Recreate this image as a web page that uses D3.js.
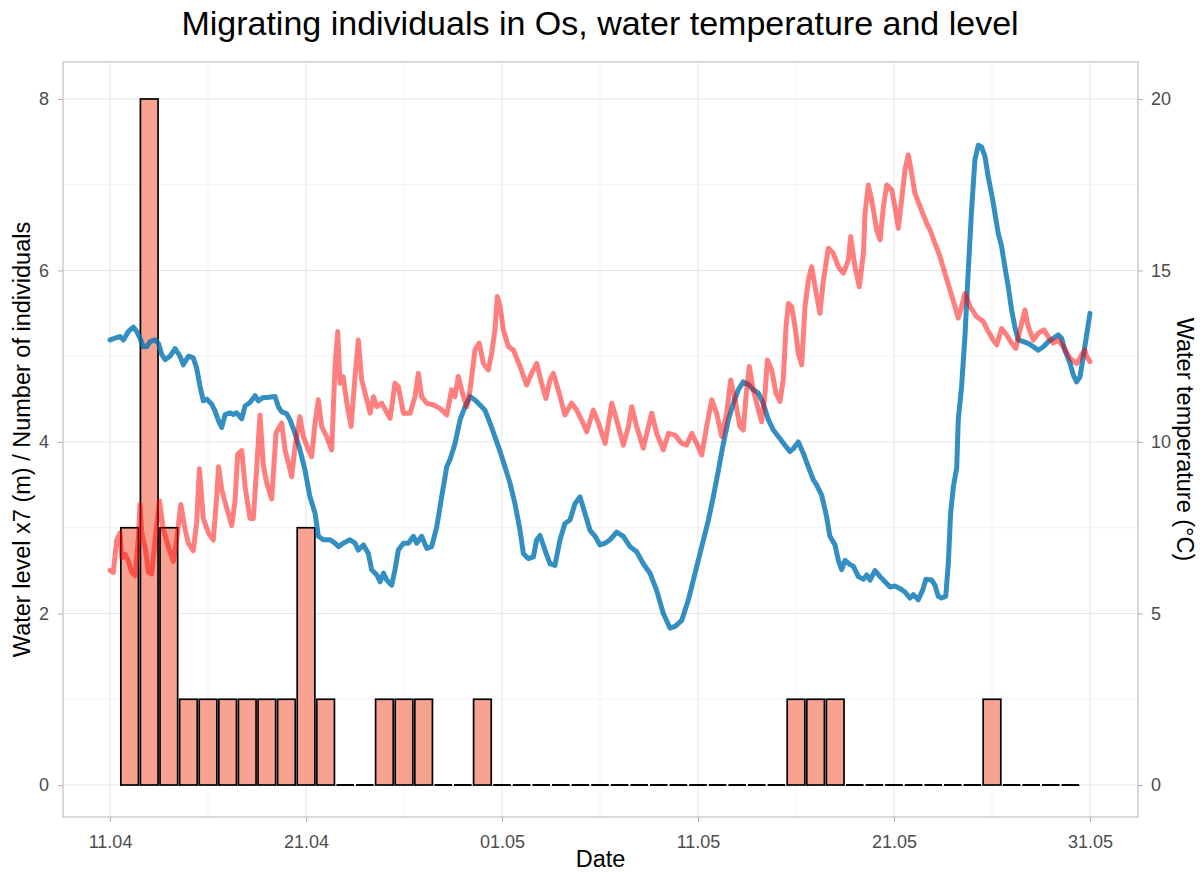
<!DOCTYPE html>
<html>
<head>
<meta charset="utf-8">
<script src="https://cdn.jsdelivr.net/npm/d3@7"></script>
<style>
  body { margin: 0; background: #fff; }
  svg { display: block; font-family: "Liberation Sans", Arial, sans-serif; }
</style>
</head>
<body>
<svg id="chart" width="1203" height="872"></svg>
<script>
// ---------------- DATA ----------------
const titleText = "Migrating individuals in Os, water temperature and level";
const xTitle = "Date";
const yLeftTitle = "Water level x7 (m) / Number of individuals";
const yRightTitle = "Water temperature (°C)";

const xTickLabels = ["11.04", "21.04", "01.05", "11.05", "21.05", "31.05"];
const yLeftTicks = [0, 2, 4, 6, 8];
const yRightTicks = [0, 5, 10, 15, 20];

// daily counts of migrating individuals
const barDates = ["12.04","13.04","14.04","15.04","16.04","17.04","18.04","19.04","20.04","21.04",
  "22.04","23.04","24.04","25.04","26.04","27.04","28.04","29.04","30.04","01.05",
  "02.05","03.05","04.05","05.05","06.05","07.05","08.05","09.05","10.05","11.05",
  "12.05","13.05","14.05","15.05","16.05","17.05","18.05","19.05","20.05","21.05",
  "22.05","23.05","24.05","25.05","26.05","27.05","28.05","29.05","30.05"];
const barCounts = [3,8,3,1,1,1,1,1,1,3,
  1,0,0,1,1,1,0,0,1,0,
  0,0,0,0,0,0,0,0,0,0,
  0,0,0,0,1,1,1,0,0,0,
  0,0,0,0,1,0,0,0,0];

// water level x7 : [days since 11.04, value]
const waterLevel = [
 [0.00,5.19],[0.26,5.21],[0.51,5.23],[0.68,5.19],[0.94,5.29],[1.19,5.34],[1.36,5.29],[1.53,5.21],[1.70,5.11],[1.87,5.11],
 [2.04,5.17],[2.30,5.19],[2.47,5.15],[2.64,5.02],[2.81,4.96],[3.06,5.00],[3.32,5.09],[3.57,5.00],[3.74,4.90],[4.00,5.00],
 [4.25,4.98],[4.42,4.86],[4.59,4.65],[4.76,4.48],[4.93,4.50],[5.19,4.44],[5.36,4.36],[5.53,4.25],[5.70,4.17],[5.87,4.32],
 [6.12,4.34],[6.29,4.32],[6.46,4.34],[6.72,4.27],[6.89,4.42],[7.14,4.46],[7.40,4.54],[7.57,4.48],[7.82,4.52],[7.99,4.52],
 [8.42,4.53],[8.59,4.41],[8.76,4.35],[9.01,4.33],[9.18,4.26],[9.44,4.10],[9.69,3.91],[9.95,3.67],[10.20,3.36],[10.46,3.17],
 [10.63,2.90],[10.88,2.86],[11.22,2.86],[11.48,2.82],[11.65,2.78],[11.90,2.82],[12.24,2.86],[12.50,2.82],[12.67,2.74],[12.93,2.80],
 [13.18,2.70],[13.35,2.51],[13.61,2.45],[13.78,2.37],[13.95,2.47],[14.12,2.39],[14.37,2.33],[14.54,2.51],[14.71,2.74],[14.97,2.82],
 [15.22,2.82],[15.48,2.90],[15.65,2.82],[15.90,2.90],[16.16,2.76],[16.41,2.78],[16.67,3.01],[16.92,3.36],[17.18,3.71],[17.35,3.80],
 [17.60,3.98],[17.86,4.26],[18.11,4.41],[18.37,4.53],[18.62,4.49],[18.88,4.43],[19.13,4.37],[19.39,4.22],[19.64,4.06],[19.90,3.89],
 [20.15,3.71],[20.41,3.52],[20.66,3.28],[20.92,2.97],[21.09,2.70],[21.34,2.64],[21.60,2.66],[21.77,2.86],[21.94,2.91],[22.19,2.74],
 [22.45,2.58],[22.70,2.56],[22.96,2.86],[23.21,3.05],[23.47,3.09],[23.72,3.28],[23.98,3.36],[24.23,3.17],[24.49,2.97],[24.75,2.90],
 [25.00,2.80],[25.26,2.82],[25.51,2.86],[25.85,2.95],[26.19,2.90],[26.53,2.78],[26.87,2.72],[27.21,2.58],[27.55,2.47],[27.89,2.27],
 [28.23,2.00],[28.57,1.83],[28.83,1.85],[29.17,1.92],[29.51,2.16],[29.85,2.47],[30.19,2.78],[30.53,3.09],[30.78,3.36],[31.04,3.67],
 [31.29,3.98],[31.55,4.26],[31.80,4.45],[32.06,4.61],[32.31,4.70],[32.57,4.67],[32.82,4.61],[33.08,4.57],[33.33,4.45],[33.59,4.26],
 [33.84,4.14],[34.18,4.04],[34.44,3.96],[34.69,3.89],[34.86,3.92],[35.12,4.00],[35.37,3.87],[35.63,3.71],[35.88,3.56],[36.05,3.50],
 [36.31,3.38],[36.56,3.13],[36.73,2.90],[36.99,2.80],[37.16,2.62],[37.33,2.51],[37.50,2.62],[37.76,2.57],[37.93,2.55],[38.18,2.43],
 [38.44,2.40],[38.61,2.45],[38.78,2.39],[39.03,2.50],[39.29,2.43],[39.54,2.37],[39.80,2.31],[40.05,2.32],[40.31,2.29],[40.56,2.25],
 [40.82,2.18],[40.99,2.22],[41.24,2.16],[41.46,2.27],[41.63,2.40],[41.92,2.39],[42.09,2.33],[42.26,2.20],[42.43,2.18],[42.64,2.20],
 [42.77,2.58],[42.89,3.17],[43.03,3.48],[43.20,3.70],[43.28,4.26],[43.45,4.65],[43.62,5.23],[43.79,6.00],[43.96,6.71],[44.13,7.29],
 [44.30,7.46],[44.47,7.44],[44.64,7.33],[44.81,7.09],[45.07,6.78],[45.32,6.43],[45.49,6.28],[45.66,6.04],[45.83,5.81],[46.00,5.54],
 [46.17,5.34],[46.34,5.19],[46.60,5.17],[46.85,5.15],[47.11,5.11],[47.36,5.07],[47.62,5.11],[47.87,5.17],[48.13,5.21],[48.38,5.25],
 [48.55,5.21],[48.72,5.07],[48.98,4.92],[49.15,4.78],[49.32,4.70],[49.49,4.76],[49.66,5.00],[49.83,5.25],[50.00,5.50]
];

// water temperature (°C) : [days since 11.04, value]
const waterTemp = [
 [0.00,6.26],[0.17,6.20],[0.34,7.14],[0.51,7.35],[0.60,6.62],[0.77,6.73],[0.94,6.52],[1.11,6.20],[1.28,6.10],[1.45,7.25],
 [1.53,8.18],[1.62,7.35],[1.79,6.93],[1.96,6.20],[2.13,6.15],[2.30,7.14],[2.52,8.29],[2.72,7.45],[2.98,6.93],[3.23,6.52],
 [3.40,7.14],[3.61,8.18],[3.83,7.45],[4.00,7.04],[4.25,6.83],[4.42,7.66],[4.56,9.22],[4.76,7.77],[5.02,7.35],[5.27,7.14],
 [5.44,8.39],[5.54,9.28],[5.70,8.60],[5.95,8.08],[6.21,7.56],[6.38,8.29],[6.51,9.64],[6.72,9.75],[6.89,8.70],[7.14,7.77],
 [7.31,7.77],[7.48,9.22],[7.65,10.79],[7.82,9.33],[7.99,8.81],[8.25,8.34],[8.47,10.27],[8.76,10.55],[8.93,9.77],[9.27,8.99],
 [9.44,9.86],[9.69,10.74],[9.86,10.16],[10.12,9.77],[10.29,9.57],[10.46,10.55],[10.63,11.23],[10.80,10.45],[11.05,10.16],[11.31,9.77],
 [11.48,12.20],[11.62,13.22],[11.73,11.71],[11.90,11.90],[12.08,11.13],[12.30,10.45],[12.50,11.90],[12.67,12.97],[12.84,11.81],[13.10,11.23],
 [13.27,10.84],[13.44,11.32],[13.61,11.03],[13.86,11.13],[14.29,10.69],[14.54,11.71],[14.71,11.61],[14.97,10.84],[15.31,10.84],[15.56,11.32],
 [15.73,12.00],[15.90,11.32],[16.16,11.13],[16.50,11.08],[16.84,10.98],[17.18,10.79],[17.43,11.52],[17.60,11.32],[17.77,11.91],[18.03,11.32],
 [18.20,11.03],[18.37,11.52],[18.62,12.68],[18.84,12.88],[19.05,12.29],[19.30,12.10],[19.47,12.58],[19.64,13.27],[19.76,14.24],[19.90,13.95],
 [20.07,13.27],[20.32,12.78],[20.58,12.68],[20.92,12.20],[21.26,11.66],[21.51,12.00],[21.77,12.29],[22.02,11.71],[22.24,11.27],[22.45,11.81],
 [22.62,12.00],[22.87,11.52],[23.21,10.79],[23.55,11.13],[23.81,10.93],[24.06,10.64],[24.32,10.30],[24.66,10.93],[24.92,10.55],[25.26,9.96],
 [25.60,11.13],[25.85,10.64],[26.19,9.91],[26.45,10.45],[26.62,11.03],[26.87,10.45],[27.21,9.82],[27.47,10.45],[27.64,10.84],[27.89,10.25],
 [28.23,9.77],[28.49,10.25],[28.83,10.20],[29.17,9.96],[29.42,9.91],[29.68,10.25],[29.93,9.96],[30.19,9.62],[30.44,10.45],[30.70,11.23],
 [30.95,10.84],[31.21,10.16],[31.46,10.84],[31.67,11.81],[31.89,11.23],[32.14,10.45],[32.31,10.35],[32.48,11.52],[32.62,12.20],[32.82,11.52],
 [33.08,10.93],[33.25,10.59],[33.42,11.42],[33.54,12.39],[33.76,12.10],[33.98,11.42],[34.18,11.18],[34.35,11.81],[34.49,13.36],[34.61,14.04],
 [34.78,13.94],[34.95,13.36],[35.12,12.58],[35.29,12.25],[35.46,13.94],[35.63,14.72],[35.80,15.11],[35.97,14.53],[36.22,13.75],[36.40,14.72],
 [36.65,15.65],[36.90,15.50],[37.16,15.11],[37.42,14.92],[37.67,15.30],[37.79,15.99],[38.01,15.11],[38.23,14.53],[38.44,15.50],[38.52,16.66],
 [38.69,17.49],[38.86,17.06],[39.12,16.18],[39.29,15.89],[39.46,16.86],[39.63,17.49],[39.88,17.35],[40.05,16.86],[40.22,16.23],[40.39,17.06],
 [40.56,17.93],[40.73,18.37],[40.90,17.83],[41.07,17.25],[41.33,16.86],[41.67,16.37],[41.84,16.18],[42.09,15.79],[42.35,15.40],[42.60,14.92],
 [42.86,14.43],[43.11,13.95],[43.28,13.61],[43.45,13.95],[43.62,14.33],[43.88,13.95],[44.22,13.65],[44.56,13.51],[44.81,13.22],[45.07,12.97],
 [45.24,12.83],[45.49,13.31],[45.75,13.12],[46.00,12.88],[46.22,12.73],[46.43,13.27],[46.68,13.85],[46.85,13.36],[47.11,12.97],[47.36,13.17],
 [47.65,13.27],[47.87,13.07],[48.13,12.88],[48.38,12.97],[48.64,12.78],[48.98,12.44],[49.32,12.29],[49.57,12.53],[49.74,12.68],[49.83,12.49],
 [50.00,12.34]
];

// ---------------- HELPERS ----------------
// "dd.mm" -> days since 11 April
function dayOffset(s) {
  const [d, m] = s.split(".").map(Number);
  return m === 4 ? d - 11 : 19 + d;
}

// ---------------- LAYOUT ----------------
const svg = d3.select("#chart");
const panel = { left: 63, right: 1138, top: 62, bottom: 817 };

const x = d3.scaleLinear().domain([-2.4, 52.45]).range([panel.left, panel.right]);
const y = d3.scaleLinear().domain([-0.373, 8.431]).range([panel.bottom, panel.top]);
const yT = d3.scaleLinear().domain([-0.933, 21.078]).range([panel.bottom, panel.top]);

// grid
const grid = svg.append("g");
const minorX = [5, 15, 25, 35, 45];
const minorY = [1, 3, 5, 7];
grid.selectAll(".mx").data(minorX).enter().append("line")
  .attr("x1", d => x(d)).attr("x2", d => x(d))
  .attr("y1", panel.top).attr("y2", panel.bottom)
  .attr("stroke", "#f3f3f3").attr("stroke-width", 1);
grid.selectAll(".my").data(minorY).enter().append("line")
  .attr("y1", d => y(d)).attr("y2", d => y(d))
  .attr("x1", panel.left).attr("x2", panel.right)
  .attr("stroke", "#f3f3f3").attr("stroke-width", 1);
grid.selectAll(".Mx").data(xTickLabels).enter().append("line")
  .attr("x1", d => x(dayOffset(d))).attr("x2", d => x(dayOffset(d)))
  .attr("y1", panel.top).attr("y2", panel.bottom)
  .attr("stroke", "#e6e6e6").attr("stroke-width", 1);
grid.selectAll(".My").data(yLeftTicks).enter().append("line")
  .attr("y1", d => y(d)).attr("y2", d => y(d))
  .attr("x1", panel.left).attr("x2", panel.right)
  .attr("stroke", "#e6e6e6").attr("stroke-width", 1);

// bars
const barW = 0.9;
const bars = barDates.map((d, i) => ({ day: dayOffset(d), n: barCounts[i] }));
const barG = svg.append("g");
barG.selectAll("rect").data(bars.filter(d => d.n > 0)).enter().append("rect")
  .attr("x", d => x(d.day - barW / 2))
  .attr("width", d => x(d.day + barW / 2) - x(d.day - barW / 2))
  .attr("y", d => y(d.n))
  .attr("height", d => y(0) - y(d.n))
  .attr("fill", "#f8a391")
  .attr("stroke", "#000")
  .attr("stroke-width", 1.7);
// zero-count bars collapse to their outline
barG.selectAll("line").data(bars.filter(d => d.n === 0)).enter().append("line")
  .attr("x1", d => x(d.day - barW / 2))
  .attr("x2", d => x(d.day + barW / 2))
  .attr("y1", y(0)).attr("y2", y(0))
  .attr("stroke", "#000")
  .attr("stroke-width", 2);

// lines
const lineL = d3.line().x(d => x(d[0])).y(d => y(d[1])).curve(d3.curveLinear);
const lineT = d3.line().x(d => x(d[0])).y(d => yT(d[1])).curve(d3.curveLinear);

svg.append("path").datum(waterLevel)
  .attr("d", lineL)
  .attr("fill", "none")
  .attr("stroke", "#0072b2")
  .attr("stroke-opacity", 0.8)
  .attr("stroke-width", 5)
  .attr("stroke-linejoin", "round")
  .attr("stroke-linecap", "round");

svg.append("path").datum(waterTemp)
  .attr("d", lineT)
  .attr("fill", "none")
  .attr("stroke", "#ff0000")
  .attr("stroke-opacity", 0.5)
  .attr("stroke-width", 5)
  .attr("stroke-linejoin", "round")
  .attr("stroke-linecap", "round");

// panel border
svg.append("rect")
  .attr("x", panel.left).attr("y", panel.top)
  .attr("width", panel.right - panel.left).attr("height", panel.bottom - panel.top)
  .attr("fill", "none").attr("stroke", "#b3b3b3").attr("stroke-width", 1);

// axes
function styleAxis(g) {
  g.select(".domain").remove();
  g.selectAll(".tick line").attr("stroke", "#b3b3b3");
  g.selectAll(".tick text").attr("fill", "#4d4d4d").attr("font-size", 18)
    .attr("font-family", "Liberation Sans, Arial, sans-serif");
}

const xAxis = d3.axisBottom(x)
  .tickValues(xTickLabels.map(dayOffset))
  .tickFormat((d, i) => xTickLabels[i])
  .tickSize(5).tickPadding(13);
svg.append("g").attr("transform", `translate(0,${panel.bottom})`).call(xAxis).call(styleAxis);

const yAxisL = d3.axisLeft(y).tickValues(yLeftTicks).tickFormat(d3.format("d")).tickSize(5).tickPadding(9);
svg.append("g").attr("transform", `translate(${panel.left},0)`).call(yAxisL).call(styleAxis);

const yAxisR = d3.axisRight(yT).tickValues(yRightTicks).tickFormat(d3.format("d")).tickSize(5).tickPadding(8);
svg.append("g").attr("transform", `translate(${panel.right},0)`).call(yAxisR).call(styleAxis);

// titles
svg.append("text")
  .attr("x", 600).attr("y", 35)
  .attr("text-anchor", "middle")
  .attr("font-size", 34).attr("fill", "#000")
  .text(titleText);

svg.append("text")
  .attr("x", (panel.left + panel.right) / 2).attr("y", 867)
  .attr("text-anchor", "middle")
  .attr("font-size", 23.5).attr("fill", "#000")
  .text(xTitle);

svg.append("text")
  .attr("transform", `translate(30,${(panel.top + panel.bottom) / 2}) rotate(-90)`)
  .attr("text-anchor", "middle")
  .attr("font-size", 23.5).attr("fill", "#000")
  .text(yLeftTitle);

svg.append("text")
  .attr("transform", `translate(1177,${(panel.top + panel.bottom) / 2}) rotate(90)`)
  .attr("text-anchor", "middle")
  .attr("font-size", 23.5).attr("fill", "#000")
  .text(yRightTitle);
</script>
</body>
</html>
